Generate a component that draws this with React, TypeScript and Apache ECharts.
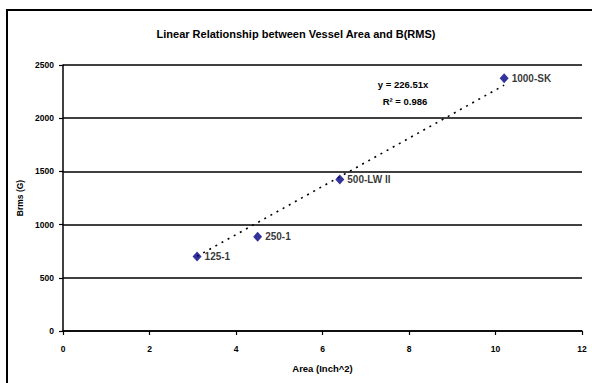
import React, { useEffect, useRef } from "react";
import * as echarts from "echarts";

const titleText = "Linear Relationship between Vessel Area and B(RMS)";
const pointNames = ["125-1", "250-1", "500-LW II", "1000-SK"];
const areaValues = [3.1, 4.5, 6.4, 10.2];
const brmsValues = [700, 885, 1425, 2375];
const trendSlope = 226.51;
const trendR2 = 0.986;
const xTicks = [0, 2, 4, 6, 8, 10, 12];
const yTicks = [0, 500, 1000, 1500, 2000, 2500];

const FONT = "'Liberation Sans', Arial, sans-serif";

export default function App() {
  const ref = useRef<HTMLDivElement>(null);
  useEffect(() => {
    if (!ref.current) return;
    const chart = echarts.init(ref.current, undefined, { renderer: "svg" });
    const xMin = Math.min(...areaValues);
    const xMax = Math.max(...areaValues);
    const trendData = [
      [xMin, trendSlope * xMin],
      [xMax, trendSlope * xMax],
    ];
    chart.setOption({
      animation: false,
      backgroundColor: "#ffffff",
      textStyle: { fontFamily: FONT },
      title: {
        text: titleText,
        left: "center",
        top: 23,
        textStyle: { fontSize: 11, fontWeight: "bold", color: "#000", fontFamily: FONT },
      },
      grid: { left: 63, right: 10, top: 65, bottom: 52, containLabel: false },
      xAxis: {
        type: "value",
        min: xTicks[0],
        max: xTicks[xTicks.length - 1],
        interval: 2,
        name: "Area (Inch^2)",
        nameLocation: "middle",
        nameGap: 32,
        nameTextStyle: { fontSize: 9.5, fontWeight: "bold", color: "#000", fontFamily: FONT },
        axisLine: { show: true, onZero: false, lineStyle: { color: "#000", width: 1.5 } },
        axisTick: { show: true, inside: false, length: 4, lineStyle: { color: "#000", width: 1.2 } },
        axisLabel: {
          fontSize: 8.5,
          fontWeight: "bold",
          color: "#000",
          margin: 13,
          fontFamily: FONT,
          formatter: (v: number) => String(v),
        },
        splitLine: { show: false },
      },
      yAxis: {
        type: "value",
        min: yTicks[0],
        max: yTicks[yTicks.length - 1],
        interval: 500,
        name: "Brms (G)",
        nameLocation: "middle",
        nameGap: 37,
        nameRotate: 90,
        nameTextStyle: { fontSize: 8.5, fontWeight: "bold", color: "#000", fontFamily: FONT },
        axisLine: { show: true, lineStyle: { color: "#000", width: 1.5 } },
        axisTick: { show: true, inside: false, length: 4, lineStyle: { color: "#000", width: 1.2 } },
        axisLabel: {
          fontSize: 8.5,
          fontWeight: "bold",
          color: "#000",
          margin: 9,
          fontFamily: FONT,
          formatter: (v: number) => String(v),
        },
        splitLine: { show: true, lineStyle: { color: "#000", width: 1.5 } },
      },
      graphic: [
        {
          type: "rect",
          shape: { x: 7, y: 10, width: 700, height: 500 },
          style: { fill: "none", stroke: "#000", lineWidth: 2 },
          silent: true,
          z: 100,
        },
        {
          type: "text",
          x: 403,
          y: 84,
          style: {
            text: "y = " + trendSlope + "x",
            fontSize: 9.5,
            fontWeight: "bold",
            fill: "#000",
            fontFamily: FONT,
            textAlign: "center",
            textVerticalAlign: "middle",
          },
        },
        {
          type: "text",
          x: 405,
          y: 101,
          style: {
            text: "R² = " + trendR2,
            fontSize: 9.5,
            fontWeight: "bold",
            fill: "#000",
            fontFamily: FONT,
            textAlign: "center",
            textVerticalAlign: "middle",
          },
        },
      ],
      series: [
        {
          type: "line",
          data: trendData,
          symbol: "none",
          lineStyle: { color: "#000", width: 1.6, type: [2, 5] },
          z: 2,
        },
        {
          type: "scatter",
          data: areaValues.map((x, i) => ({ value: [x, brmsValues[i]], name: pointNames[i] })),
          symbol: "diamond",
          symbolSize: [9, 10],
          itemStyle: { color: "#000080" },
          label: {
            show: true,
            position: "right",
            distance: 3,
            formatter: (p: any) => p.name,
            fontSize: 10,
            fontWeight: "bold",
            color: "#000",
            fontFamily: FONT,
          },
          z: 3,
        },
      ],
    });
    return () => chart.dispose();
  }, []);
  return <div ref={ref} style={{ width: 592, height: 383, position: "absolute", left: 0, top: 0 }} />;
}
